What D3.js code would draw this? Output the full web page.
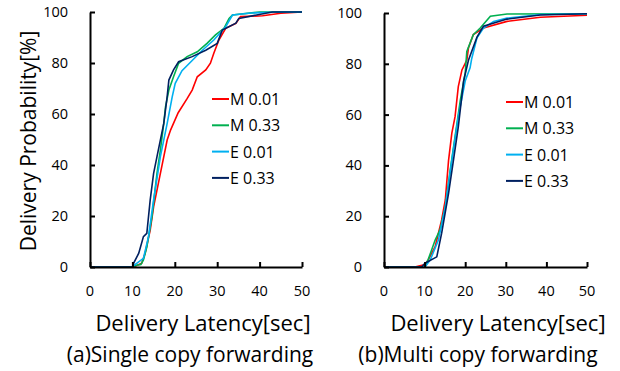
<!DOCTYPE html>
<html>
<head>
<meta charset="utf-8">
<script src="https://cdn.jsdelivr.net/npm/d3@7"></script>
<style>
  body { margin: 0; background: #fff; }
  svg text { font-family: "Open Sans", "Liberation Sans", sans-serif; fill: #000; }
</style>
</head>
<body>
<div id="chart"></div>
<script>
// series names and colours
var seriesNames = ['M 0.01', 'M 0.33', 'E 0.01', 'E 0.33']
var seriesColors = ['#ff0000', '#00b050', '#00b0f0', '#002060']
var xTicks = [0, 10, 20, 30, 40, 50]
var yTicks = [0, 20, 40, 60, 80, 100]

// (a) single copy forwarding: [latency sec, probability %]
var singleM001 = [[0, 0], [10.3, 0], [12.2, 1.5], [13, 5.4], [14.2, 14.5], [15, 23.6], [16.6, 36.7], [18.2, 49.8], [19, 53.7], [20.8, 60.5], [22.9, 66], [24.1, 69.4], [25.3, 74.6], [27.3, 77.3], [28.4, 79.9], [29.2, 83.8], [30.4, 89], [32, 93.6], [34.4, 95.5], [35.5, 98.2], [40.7, 98.5], [45, 99.5], [50, 100]]
var singleM033 = [[0, 0], [10, 0], [11, 0.7], [12, 1], [12.6, 2.8], [13.4, 7.8], [14.6, 19.6], [15.8, 36.7], [16.6, 45.8], [17.4, 56.3], [17.8, 62.7], [18.6, 69.4], [19.7, 74.6], [20.9, 79.9], [22.9, 82.5], [25.3, 84.4], [27.6, 87.7], [29.6, 91], [31.6, 93.6], [32.8, 97.5], [33.6, 98.8], [40, 100], [50, 100]]
var singleE001 = [[0, 0], [10, 0], [10.3, 0.5], [12.6, 3.4], [13.8, 11.9], [15, 26.3], [16.6, 43.3], [18.2, 56.3], [19.4, 66.8], [20.1, 72], [21.7, 77], [24.1, 81], [26.5, 85], [29.2, 89], [32, 94.2], [33.6, 98.8], [38, 99.6], [45, 100], [50, 100]]
var singleE033 = [[0, 0], [10, 0], [10.3, 1.5], [11.5, 5.4], [12.6, 11.9], [13.4, 13.2], [14.2, 26.3], [15, 36.7], [15.8, 43.3], [17.4, 56.3], [18.2, 66.8], [18.6, 73.3], [19.7, 77.3], [20.9, 80.5], [24.1, 82.5], [27.3, 85], [30, 87.7], [31.2, 92.9], [34.4, 95.6], [35.1, 97.5], [43, 100], [50, 100]]

// (b) multi copy forwarding
var multiM001 = [[0, 0], [7.6, 0], [10.1, 1], [10.9, 2.8], [12.6, 8], [14.2, 18.5], [15.1, 26.4], [15.9, 42], [16.7, 52.6], [17.5, 59.2], [18.3, 71], [19.2, 77.6], [20.4, 81.5], [20.8, 86.2], [22, 91.5], [24.5, 94.1], [30.3, 96.7], [38.5, 98.3], [50, 99.1]]
var multiM033 = [[0, 0], [10, 0], [10.9, 3], [12.6, 10.6], [13.8, 14.6], [15.1, 23.7], [16.3, 38], [17.5, 51.3], [18.8, 65.7], [20, 76.3], [20.4, 84.9], [22, 91.5], [23.7, 94.1], [26.2, 98.7], [30.3, 99.6], [50, 99.7]]
var multiE001 = [[0, 0], [10.1, 0], [11.4, 2.8], [13.4, 10.6], [15.1, 23.7], [16.7, 42], [18.3, 59.2], [20, 73.2], [21.2, 78.4], [21.6, 82], [22.9, 90.2], [24.5, 94.1], [27, 96.7], [30.3, 98], [38.5, 99.4], [50, 99.7]]
var multiE033 = [[0, 0], [9.3, 0], [10.1, 1.5], [13, 4], [14.2, 13.3], [15.9, 29], [17.1, 42], [18.3, 55.2], [19.6, 73.2], [20.8, 81.4], [22.9, 90.5], [24.5, 94.8], [30.3, 97.6], [38.5, 99.2], [50, 99.7]]

var svg = d3.select('#chart').append('svg')
  .attr('width', 620)
  .attr('height', 371)

function drawPanel (cfg) {
  var x = d3.scaleLinear().domain([0, 50]).range([cfg.left, cfg.right])
  var y = d3.scaleLinear().domain([0, 100]).range([cfg.bottom, cfg.top])

  var g = svg.append('g')

  var line = d3.line()
    .x(function (d) { return x(d[0]) })
    .y(function (d) { return y(d[1]) })

  cfg.series.forEach(function (s, i) {
    g.append('path')
      .datum(s)
      .attr('fill', 'none')
      .attr('stroke', seriesColors[i])
      .attr('stroke-width', 1.6)
      .attr('d', line)
  })

  // axes with ticks pointing inward
  var xAxis = g.append('g')
    .attr('transform', 'translate(0,' + cfg.bottom + ')')
    .call(d3.axisTop(x).tickValues(xTicks).tickSize(5).tickSizeOuter(0).tickFormat(''))
  var yAxis = g.append('g')
    .attr('transform', 'translate(' + cfg.left + ',0)')
    .call(d3.axisRight(y).tickValues(yTicks).tickSize(5).tickSizeOuter(0).tickFormat(''))
  ;[xAxis, yAxis].forEach(function (a) {
    a.selectAll('path, line').attr('stroke', '#000').attr('stroke-width', 2)
  })

  g.selectAll('.xlab').data(xTicks).enter().append('text')
    .attr('x', function (d) { return x(d) })
    .attr('y', cfg.bottom + 29)
    .attr('text-anchor', 'middle')
    .style('font-size', '14.5px')
    .text(function (d) { return d })

  g.selectAll('.ylab').data(yTicks).enter().append('text')
    .attr('x', cfg.left - 22)
    .attr('y', function (d) { return y(d) + 5 })
    .attr('text-anchor', 'end')
    .style('font-size', '14.5px')
    .text(function (d) { return d })

  // legend
  seriesNames.forEach(function (name, i) {
    var ly = cfg.legendY + i * 26.3
    g.append('line')
      .attr('x1', cfg.legendX).attr('x2', cfg.legendX + 17)
      .attr('y1', ly).attr('y2', ly)
      .attr('stroke', seriesColors[i]).attr('stroke-width', 2)
    g.append('text')
      .attr('x', cfg.legendX + 18)
      .attr('y', ly + 6)
      .style('font-size', '16px')
      .text(name)
  })

  g.append('text')
    .attr('x', cfg.titleX)
    .attr('y', 331)
    .attr('text-anchor', 'middle')
    .style('font-size', '22px')
    .text('Delivery Latency[sec]')

  g.append('text')
    .attr('x', cfg.subX)
    .attr('y', 362)
    .attr('text-anchor', 'middle')
    .style('font-size', '21px')
    .text(cfg.subtitle)
}

drawPanel({
  left: 90, right: 302, top: 12, bottom: 267,
  series: [singleM001, singleM033, singleE001, singleE033],
  legendX: 212, legendY: 99,
  titleX: 203, subX: 190,
  subtitle: '(a)Single copy forwarding'
})

drawPanel({
  left: 384, right: 587, top: 13, bottom: 267,
  series: [multiM001, multiM033, multiE001, multiE033],
  legendX: 506, legendY: 102,
  titleX: 498, subX: 478,
  subtitle: '(b)Multi copy forwarding'
})

svg.append('text')
  .attr('transform', 'translate(36,141) rotate(-90)')
  .attr('text-anchor', 'middle')
  .style('font-size', '21px')
  .text('Delivery Probability[%]')
</script>
</body>
</html>
